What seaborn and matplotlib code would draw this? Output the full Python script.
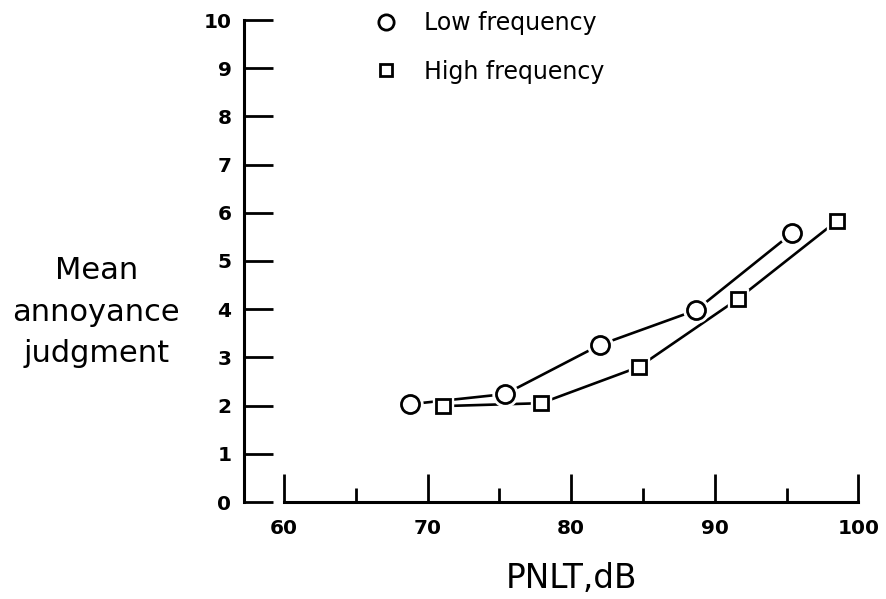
import pandas as pd
import matplotlib.pyplot as plt
import seaborn as sns
from matplotlib.lines import Line2D
from matplotlib.ticker import MultipleLocator

# Values
low_pnlt = [68.8, 75.4, 82.0, 88.7, 95.4]
low_annoyance = [2.03, 2.24, 3.26, 3.98, 5.58]
high_pnlt = [71.1, 77.9, 84.7, 91.6, 98.5]
high_annoyance = [1.99, 2.05, 2.80, 4.21, 5.83]
series_names = ['Low frequency', 'High frequency']
x_ticks = [60, 70, 80, 90, 100]
y_ticks = list(range(0, 11))

df = pd.concat([
    pd.DataFrame({'PNLT': low_pnlt, 'Annoyance': low_annoyance, 'Series': series_names[0]}),
    pd.DataFrame({'PNLT': high_pnlt, 'Annoyance': high_annoyance, 'Series': series_names[1]}),
])

sns.set_style('white')
plt.rcParams['font.family'] = ['DejaVu Sans']
plt.rcParams['text.color'] = 'black'
plt.rcParams['axes.labelcolor'] = 'black'
plt.rcParams['xtick.color'] = 'black'
plt.rcParams['ytick.color'] = 'black'

fig = plt.figure(figsize=(8.87, 5.99), dpi=100)
ax = fig.add_axes([244 / 887, 97 / 599, 615 / 887, 482 / 599])

marker_map = {'Low frequency': 'o', 'High frequency': 's'}
size_map = {'Low frequency': 13, 'High frequency': 9.5}

# connecting lines
sns.lineplot(data=df, x='PNLT', y='Annoyance', units='Series', estimator=None,
             color='black', linewidth=1.9, ax=ax, legend=False)

# markers with a white halo so the lines stop short of them
for name, grp in df.groupby('Series'):
    ax.plot(grp['PNLT'], grp['Annoyance'], linestyle='none', marker=marker_map[name],
            markersize=size_map[name] + 5, markerfacecolor='white',
            markeredgecolor='white', zorder=3)
    ax.plot(grp['PNLT'], grp['Annoyance'], linestyle='none', marker=marker_map[name],
            markersize=size_map[name], markerfacecolor='white',
            markeredgecolor='black', markeredgewidth=2, zorder=4)

ax.set_xlim(57.2, 100.05)
ax.set_ylim(0, 10)
ax.set_xticks(x_ticks)
ax.xaxis.set_minor_locator(MultipleLocator(5))
ax.set_yticks(y_ticks)

for side in ['top', 'right']:
    ax.spines[side].set_visible(False)
for side in ['left', 'bottom']:
    ax.spines[side].set_linewidth(2.2)
    ax.spines[side].set_color('black')
ax.spines['bottom'].set_bounds(60, 100)
ax.spines['left'].set_bounds(0, 10)

ax.tick_params(axis='y', left=True, direction='in', length=21, width=2, labelsize=14.5, pad=9)
ax.tick_params(axis='x', which='major', bottom=True, direction='in', length=20, width=2,
               labelsize=14.5, pad=12)
ax.tick_params(axis='x', which='minor', bottom=True, direction='in', length=10, width=2)
for lbl in ax.get_xticklabels() + ax.get_yticklabels():
    lbl.set_fontweight('bold')

ax.set_xlabel('PNLT,dB', fontsize=23.5, va='center')
ax.xaxis.set_label_coords(0.532, -0.158)
ax.set_ylabel('Mean\nannoyance\njudgment', fontsize=22, rotation=0,
              ha='center', va='center', multialignment='center', linespacing=1.55)
ax.yaxis.set_label_coords(-0.24, 0.394)

handles = [Line2D([], [], linestyle='none', marker='o', markersize=11, markerfacecolor='white',
                  markeredgecolor='black', markeredgewidth=2),
           Line2D([], [], linestyle='none', marker='s', markersize=8, markerfacecolor='white',
                  markeredgecolor='black', markeredgewidth=2)]
ax.legend(handles, series_names, loc='upper left', bbox_to_anchor=(0.173, 1.063),
          frameon=False, fontsize=17, handlelength=1.2, handletextpad=1.0, labelspacing=1.05)

fig.savefig('out.png', dpi=100)
